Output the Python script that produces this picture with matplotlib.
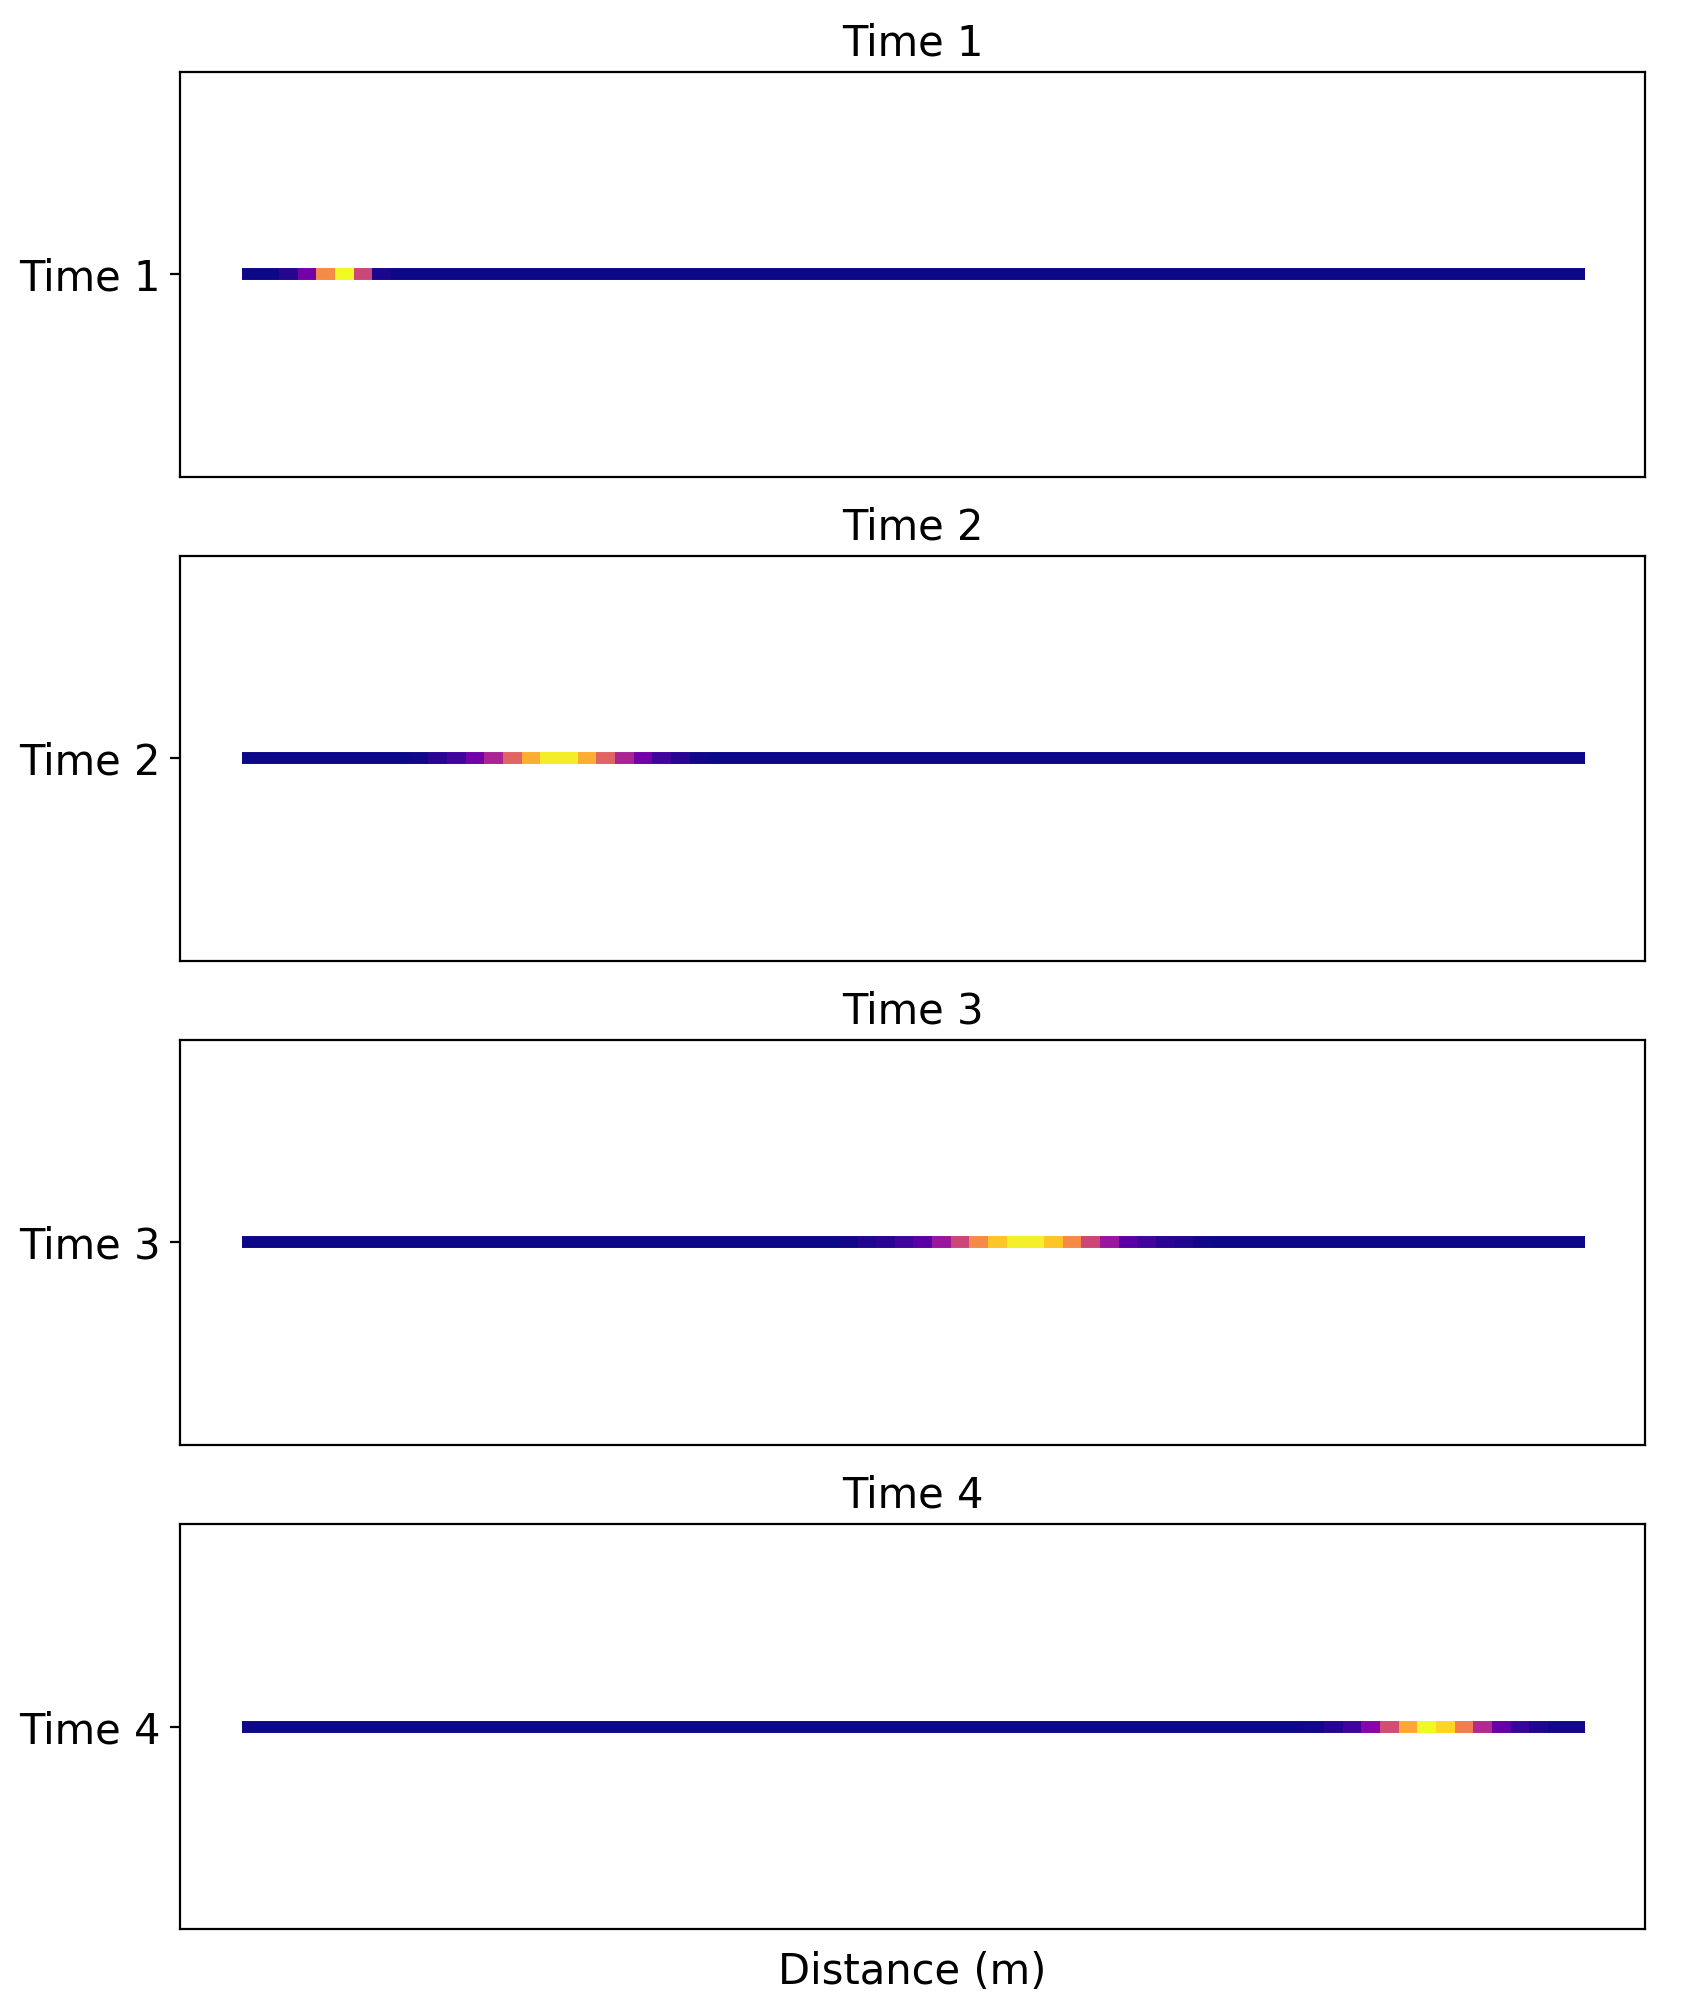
import matplotlib
matplotlib.use("Agg")
import matplotlib.pyplot as plt
import numpy as np

plt.rcParams["font.size"] = 15
plt.rcParams["axes.titlesize"] = 15

n_cells = 72
time_labels = ["Time 1", "Time 2", "Time 3", "Time 4"]
pulse_start = [2, 9, 32, 57]
pulse_values = [
    [0.04, 0.22, 0.72, 1.0, 0.5, 0.02],
    [0.01, 0.05, 0.1, 0.22, 0.38, 0.6, 0.82, 0.97, 0.97, 0.82, 0.6, 0.38, 0.22, 0.1, 0.05, 0.01],
    [0.01, 0.03, 0.05, 0.1, 0.16, 0.33, 0.5, 0.72, 0.88, 0.98,
     0.98, 0.88, 0.72, 0.5, 0.33, 0.16, 0.1, 0.05, 0.03, 0.01],
    [0.01, 0.04, 0.09, 0.27, 0.52, 0.8, 1.0, 0.92, 0.68, 0.4, 0.18, 0.08, 0.03, 0.01, 0.01],
]

edges = np.arange(n_cells + 1)
cmap = plt.get_cmap("plasma")

fig, axes = plt.subplots(4, 1, figsize=(1689 / 200, 2012 / 200), dpi=200)
fig.subplots_adjust(left=0.1066, right=0.974, top=0.9642, bottom=0.0413, hspace=0.196)

for i, ax in enumerate(axes):
    conc = np.zeros(n_cells)
    conc[pulse_start[i]:pulse_start[i] + len(pulse_values[i])] = pulse_values[i]
    lc = ax.hlines(np.zeros(n_cells), edges[:-1], edges[1:], colors=cmap(conc), linewidth=4.3)
    lc.set_capstyle("butt")
    ax.set_xlim(-3.3, n_cells + 3.2)
    ax.set_ylim(-1, 1)
    ax.set_yticks([0])
    ax.set_yticklabels([time_labels[i]])
    ax.set_xticks([])
    ax.set_title(time_labels[i])

axes[-1].set_xlabel("Distance (m)", labelpad=8)

fig.savefig("out.png", dpi=200)
plt.close()
